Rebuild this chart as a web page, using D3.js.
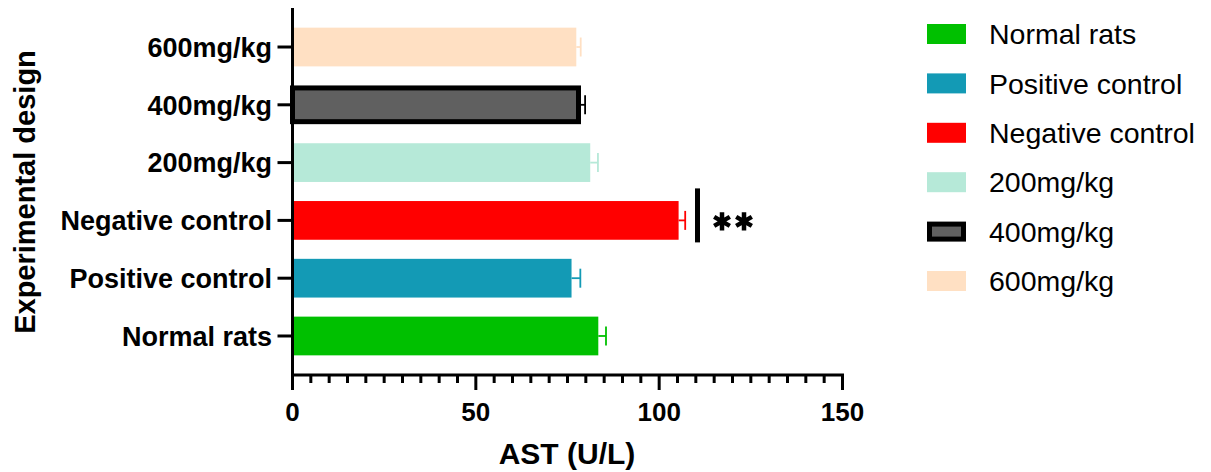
<!DOCTYPE html>
<meta charset="utf-8">
<style>
body { margin: 0; background: #fff; }
text { font-family: "Liberation Sans", Arial, sans-serif; fill: #000; }
.tick-label { font-weight: bold; font-size: 27px; }
.axis-title { font-weight: bold; font-size: 30px; }
.legend text { font-size: 28.5px; }
</style>
<svg width="1211" height="472" id="chart"></svg>
<script src="https://d3js.org/d3.v7.min.js"></script>
<script>

// data (bottom to top)
var groups = ["Normal rats", "Positive control", "Negative control", "200mg/kg", "400mg/kg", "600mg/kg"];
var means  = [83.4, 76.1, 105.3, 81.2, 78.0, 77.4];
var sems   = [2.1, 2.4, 1.8, 2.1, 1.8, 1.2];
var fills  = ["#00c000", "#139ab5", "#ff0000", "#b6e9d8", "#606060", "#ffe0c3"];
var strokes = [null, null, null, null, "#000", null];
var xTicks = [0, 50, 100, 150];

var svg = d3.select("#chart");

var x = d3.scaleLinear().domain([0, 150]).range([292.5, 842.5]);
var y = d3.scaleBand().domain(groups).range([375, 8])
    .paddingInner(0.33).paddingOuter(0.34);

var rows = groups.map(function(g, i) {
  return {name: g, mean: means[i], sem: sems[i], fill: fills[i], stroke: strokes[i]};
});

// bars (outlined bar drawn inside its band)
var bars = svg.append("g").attr("class", "bars");
bars.selectAll("rect")
  .data(rows)
  .enter().append("rect")
    .attr("x", x(0))
    .attr("y", function(d) { return y(d.name) + (d.stroke ? 2.5 : 0); })
    .attr("width", function(d) { return x(d.mean) - x(0); })
    .attr("height", function(d) { return y.bandwidth() - (d.stroke ? 5 : 0); })
    .attr("fill", function(d) { return d.fill; })
    .attr("stroke", function(d) { return d.stroke || "none"; })
    .attr("stroke-width", 5);

// error bars (upper side only)
var err = svg.append("g").attr("class", "errors");
rows.forEach(function(d) {
  var cy = y(d.name) + y.bandwidth() / 2;
  var c = d.stroke || d.fill;
  err.append("line")
      .attr("x1", x(d.mean)).attr("x2", x(d.mean + d.sem))
      .attr("y1", cy).attr("y2", cy)
      .attr("stroke", c).attr("stroke-width", 1.8);
  err.append("line")
      .attr("x1", x(d.mean + d.sem)).attr("x2", x(d.mean + d.sem))
      .attr("y1", cy - 9.5).attr("y2", cy + 9.5)
      .attr("stroke", c).attr("stroke-width", 1.8);
});

// significance mark next to negative control
var neg = rows[2];
var ny = y(neg.name) + y.bandwidth() / 2;
svg.append("line")
    .attr("x1", 697.5).attr("x2", 697.5)
    .attr("y1", ny - 32).attr("y2", ny + 22)
    .attr("stroke", "#000").attr("stroke-width", 5);
var star = d3.symbol().type(d3.symbolAsterisk).size(230);
[722, 744].forEach(function(cx) {
  svg.append("path")
      .attr("d", star())
      .attr("transform", "translate(" + cx + "," + (ny + 1) + ")")
      .attr("fill", "none")
      .attr("stroke", "#000")
      .attr("stroke-width", 4.5);
});

// x axis with minor ticks
var xAxis = svg.append("g").attr("class", "x-axis");
xAxis.append("line")
    .attr("x1", x(0) - 1.5).attr("x2", x(150) + 1.5)
    .attr("y1", 375).attr("y2", 375)
    .attr("stroke", "#000").attr("stroke-width", 3);
xAxis.selectAll("line.minor")
  .data(d3.range(0, 151, 5))
  .enter().append("line")
    .attr("class", "minor")
    .attr("x1", function(d) { return x(d); })
    .attr("x2", function(d) { return x(d); })
    .attr("y1", 375)
    .attr("y2", function(d) { return d % 50 === 0 ? 390 : 383; })
    .attr("stroke", "#000").attr("stroke-width", 3);
xAxis.selectAll("text")
  .data(xTicks)
  .enter().append("text")
    .attr("class", "tick-label")
    .attr("x", function(d) { return x(d); })
    .attr("y", 421)
    .attr("text-anchor", "middle")
    .style("font-size", "26px")
    .text(function(d) { return d; });

// y axis
var yAxis = svg.append("g").attr("class", "y-axis");
yAxis.append("line")
    .attr("x1", x(0)).attr("x2", x(0))
    .attr("y1", 8).attr("y2", 390)
    .attr("stroke", "#000").attr("stroke-width", 3);
yAxis.selectAll("line.tick")
  .data(groups)
  .enter().append("line")
    .attr("class", "tick")
    .attr("x1", x(0) - 15).attr("x2", x(0))
    .attr("y1", function(d) { return y(d) + y.bandwidth() / 2; })
    .attr("y2", function(d) { return y(d) + y.bandwidth() / 2; })
    .attr("stroke", "#000").attr("stroke-width", 3);
yAxis.selectAll("text")
  .data(groups)
  .enter().append("text")
    .attr("class", "tick-label")
    .attr("x", 272)
    .attr("y", function(d) { return y(d) + y.bandwidth() / 2; })
    .attr("dy", "0.36em")
    .attr("text-anchor", "end")
    .text(function(d) { return d; });

// axis titles
svg.append("text")
    .attr("class", "axis-title")
    .attr("x", 567).attr("y", 464)
    .attr("text-anchor", "middle")
    .text("AST (U/L)");
svg.append("text")
    .attr("class", "axis-title")
    .attr("transform", "translate(35,192) rotate(-90)")
    .attr("text-anchor", "middle")
    .style("font-size", "29px")
    .text("Experimental design");

// legend (top to bottom: same order as groups)
var legend = svg.append("g").attr("class", "legend");
var item = legend.selectAll("g")
  .data(rows)
  .enter().append("g")
    .attr("transform", function(d, i) { return "translate(927," + (34 + i * 49.4) + ")"; });
item.append("rect")
    .attr("x", function(d) { return d.stroke ? 2.5 : 0; })
    .attr("y", function(d) { return d.stroke ? -7.5 : -10; })
    .attr("width", function(d) { return d.stroke ? 34 : 39; })
    .attr("height", function(d) { return d.stroke ? 15 : 20; })
    .attr("fill", function(d) { return d.fill; })
    .attr("stroke", function(d) { return d.stroke || "none"; })
    .attr("stroke-width", 5);
item.append("text")
    .attr("x", 62)
    .attr("dy", "0.36em")
    .text(function(d) { return d.name; });

</script>
